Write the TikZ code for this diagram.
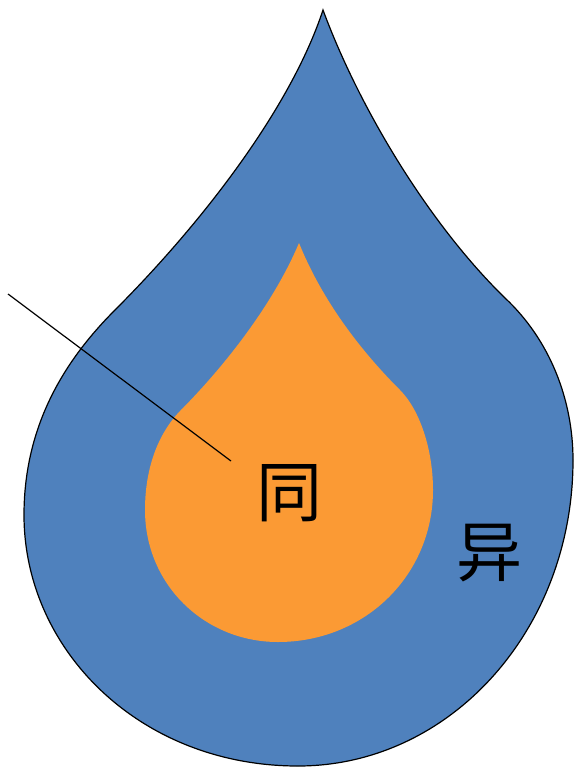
\documentclass[tikz,border=0pt]{standalone}
\usepackage{fontspec}
\newfontfamily\cjk{Noto Sans CJK SC}
\definecolor{dropblue}{HTML}{4F81BD}
\definecolor{droporange}{HTML}{FB9A34}
\begin{document}
\begin{tikzpicture}[x=1pt,y=-1pt,
  outerdrop/.style={fill=dropblue,draw=black,line width=1.2pt},
  innerdrop/.style={fill=droporange},
  lbl/.style={font=\cjk\fontsize{66}{66}\selectfont,inner sep=0pt},
  pointer/.style={draw=black,line width=1.2pt}]
\useasboundingbox (0,0) rectangle (574,767);
\path[outerdrop] (323,10) .. controls (360,110) and (430,225) .. (505,298)
  .. controls (550,340) and (573,400) .. (573,460)
  .. controls (573,630) and (450,766) .. (298,766)
  .. controls (140,766) and (24,650) .. (24,515)
  .. controls (24,420) and (70,355) .. (115,310)
  .. controls (200,225) and (290,110) .. (323,10) -- cycle;
\path[innerdrop] (299,243) .. controls (320,295) and (355,345) .. (400,390)
  .. controls (420,410) and (433,450) .. (433,490)
  .. controls (433,575) and (365,642) .. (278,642)
  .. controls (205,642) and (145,585) .. (145,510)
  .. controls (145,465) and (160,430) .. (183,408)
  .. controls (230,360) and (275,300) .. (299,243) -- cycle;
\node[lbl] (tong) at (289,493) {同};
\node[lbl] (yi) at (489,553) {异};
\coordinate (pstart) at (8,294);
\coordinate (pend) at (231,461);
\draw[pointer] (pstart) -- (pend);
\end{tikzpicture}
\end{document}
